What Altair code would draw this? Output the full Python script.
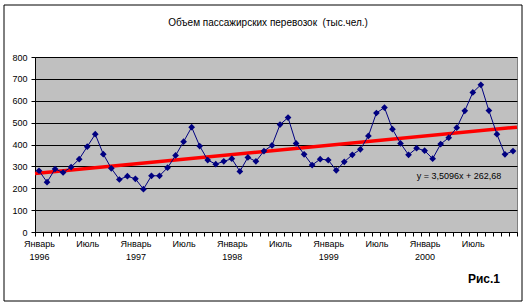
import altair as alt
import pandas as pd

# ---- data ----
month_index = list(range(1, 61))
passengers = [280, 228, 288, 272, 297, 333, 390, 447, 356, 291, 240, 255,
              243, 196, 257, 257, 294, 350, 413, 479, 393, 329, 310, 323,
              335, 277, 341, 323, 370, 396, 491, 523, 405, 355, 306, 333,
              329, 282, 321, 353, 378, 439, 544, 569, 470, 405, 353, 383,
              372, 335, 402, 431, 477, 554, 638, 673, 555, 447, 355, 370]
y_ticks = [0, 100, 200, 300, 400, 500, 600, 700, 800]
label_month_names = ["Январь", "Июль"]
label_years = ["1996", "1997", "1998", "1999", "2000"]
title_text = "Объем пассажирских перевозок\u00a0 (тыс.чел.)"
equation_text = "y = 3,5096x + 262,68"
figure_text = "Рис.1"

FONT = "Liberation Sans"

df = pd.DataFrame({"idx": month_index, "value": passengers})

# tick marks at category boundaries, labels at Jan / Jul
boundaries = [k + 0.5 for k in range(0, 61)]
parts = []
for i, yr in enumerate(label_years):
    parts.append((12 * i + 0.5, f"['{label_month_names[0]}', '{yr}']"))
    parts.append((12 * i + 6.5, f"'{label_month_names[1]}'"))
expr = "''"
for v, t in reversed(parts):
    expr = f"datum.value == {v} ? {t} : ({expr})"

x_scale = alt.Scale(domain=[0.5, 60.5], nice=False, zero=False)
y_scale = alt.Scale(domain=[0, 800], nice=False)

x_axis = alt.Axis(values=boundaries, labelExpr=expr, labelOffset=4, tickSize=4,
                  tickColor="black", domainColor="black", labelFontSize=9,
                  labelFont=FONT, labelColor="black", grid=False, title=None,
                  labelPadding=3, labelLineHeight=13, labelOverlap=False,
                  labelFlush=False, labelAlign="center", labelBaseline="top",
                  labelBound=False)
y_axis = alt.Axis(values=y_ticks, grid=True, gridColor="black", gridWidth=1,
                  tickSize=4, tickColor="black", domainColor="black",
                  labelFontSize=9, labelFont=FONT, labelColor="black",
                  labelPadding=4, title=None)

base = alt.Chart(df)

trend = base.transform_regression(
    "idx", "value", extent=[0.5, 60.5]
).mark_line(color="#ff0000", strokeWidth=3.5).encode(
    x=alt.X("idx:Q", scale=x_scale, axis=x_axis),
    y=alt.Y("value:Q", scale=y_scale, axis=y_axis),
)

series = base.mark_line(
    color="#000080", strokeWidth=1,
    point=alt.OverlayMarkDef(shape="diamond", size=45, filled=True,
                             color="#000080", opacity=1),
).encode(
    x=alt.X("idx:Q", scale=x_scale, axis=x_axis),
    y=alt.Y("value:Q", scale=y_scale, axis=y_axis),
)

title_mark = alt.Chart(pd.DataFrame({"t": [title_text]})).mark_text(
    font=FONT, fontSize=10, color="black", align="center", baseline="middle"
).encode(x=alt.value(233), y=alt.value(-34), text="t:N")

eq_mark = alt.Chart(pd.DataFrame({"t": [equation_text]})).mark_text(
    font=FONT, fontSize=9, color="black", align="center", baseline="middle"
).encode(x=alt.value(424), y=alt.value(119), text="t:N")

fig_mark = alt.Chart(pd.DataFrame({"t": [figure_text]})).mark_text(
    font=FONT, fontSize=12, fontWeight="bold", color="black",
    align="center", baseline="middle"
).encode(x=alt.value(449), y=alt.value(222), text="t:N")

frame = alt.Chart(pd.DataFrame({"a": [0]})).mark_rect(
    fill=None, stroke="black", strokeWidth=1, clip=False
).encode(x=alt.value(-31), x2=alt.value(487), y=alt.value(-52), y2=alt.value(244))

chart = alt.layer(trend, series, title_mark, eq_mark, fig_mark, frame).properties(
    width=482, height=175,
    autosize=alt.AutoSizeParams(type="none"),
    padding={"left": 35, "top": 57, "right": 10, "bottom": 76},
    background="white",
).configure_view(fill="#c0c0c0", stroke="#808080", strokeWidth=1)

chart.save("out.html", embed_options={"renderer": "svg", "actions": False})
